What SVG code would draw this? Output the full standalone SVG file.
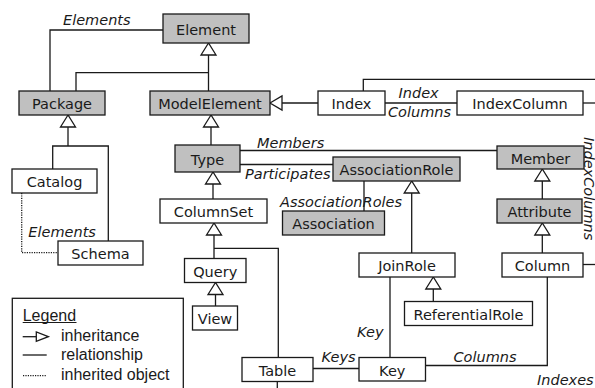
<svg xmlns="http://www.w3.org/2000/svg" width="595" height="388" viewBox="0 0 595 388">
<style>
.n rect{stroke:#1a1a1a;stroke-width:1.3}
.g rect{fill:#c0c0c0}
.w rect{fill:#fff}
text{font-family:"DejaVu Sans",Verdana,sans-serif;font-size:14.5px;fill:#1a1a1a}
.n text{text-anchor:middle}
.lbl{font-style:italic}
.c path{fill:none;stroke:#1a1a1a;stroke-width:1.3}
.tri{fill:#fff;stroke:#1a1a1a;stroke-width:1.3}
.dot{stroke-dasharray:1.2 1.2}
.lg{font-family:"Liberation Sans",Arial,sans-serif;font-size:16px}
</style>
<defs>
<polygon id="tu" points="0,0 -7.5,12 7.5,12"/>
<polygon id="tl" points="0,0 12,-7 12,7"/>
<polygon id="tr" points="0,0 -12,-4.7 -12,4.7"/>
</defs>
<rect width="595" height="388" fill="#fff"/>
<g class="c" id="connectors">
<path d="M208.5,55 V91 M76,91 V72.7 H208.5"/>
<path d="M163,30 H50 V91"/>
<path d="M211,127 V145"/>
<path d="M282,103 H318"/>
<path d="M363.3,91 V79.3 H596"/>
<path d="M385,103 H457"/>
<path d="M583,103 H596"/>
<path d="M68,127 V146 M52.7,169 V146 H108.3 V241"/>
<path class="dot" d="M21.7,193 V252.7 H58"/>
<path d="M213,184 V199"/>
<path d="M240,150.5 H497"/>
<path d="M240,164.5 H333"/>
<path d="M364,181 V211"/>
<path d="M214,235 V258.5 M214,248.3 H278.3 V357.5"/>
<path d="M215.5,294.5 V306"/>
<path d="M411.7,193 V253"/>
<path d="M433.3,289 V301.5"/>
<path d="M542.3,181 V199"/>
<path d="M542.3,235 V253"/>
<path d="M583,264.5 H596"/>
<path d="M390,277 V357.5"/>
<path d="M313,368.5 H359"/>
<path d="M425.5,365.5 H547.3 V277"/>
<path d="M277.3,381.5 V390"/>
<use href="#tu" class="tri" x="208.5" y="43"/>
<use href="#tu" class="tri" x="211" y="115"/>
<use href="#tl" class="tri" x="270" y="103"/>
<use href="#tu" class="tri" x="68" y="115"/>
<use href="#tu" class="tri" x="213" y="172"/>
<use href="#tu" class="tri" x="214" y="223"/>
<use href="#tu" class="tri" x="215.5" y="282.5"/>
<use href="#tu" class="tri" x="411.7" y="181"/>
<use href="#tu" class="tri" x="433.3" y="277"/>
<use href="#tu" class="tri" x="542.3" y="169"/>
<use href="#tu" class="tri" x="542.3" y="223"/>
<text class="lbl" x="63" y="25">Elements</text>
<text class="lbl" x="257" y="147.5">Members</text>
<text class="lbl" x="245" y="179">Participates</text>
<text class="lbl" x="280" y="206.5">AssociationRoles</text>
<text class="lbl" x="398.5" y="98">Index</text>
<text class="lbl" x="388" y="116.5">Columns</text>
<text class="lbl" transform="translate(583.5,137) rotate(90)">IndexColumns</text>
<text class="lbl" x="28.3" y="237">Elements</text>
<text class="lbl" x="357" y="336.5">Key</text>
<text class="lbl" x="321.5" y="361.5">Keys</text>
<text class="lbl" x="453.5" y="362">Columns</text>
<text class="lbl" x="537" y="385">Indexes</text>
</g>
<g id="Element" class="n g"><rect x="163" y="14" width="86" height="29"/><text x="206" y="35">Element</text></g>
<g id="Package" class="n g"><rect x="19" y="91" width="86" height="24"/><text x="62" y="109">Package</text></g>
<g id="ModelElement" class="n g"><rect x="150" y="91" width="120" height="24"/><text x="210" y="109">ModelElement</text></g>
<g id="Index" class="n w"><rect x="318" y="91" width="67" height="24"/><text x="351.5" y="109">Index</text></g>
<g id="IndexColumn" class="n w"><rect x="457" y="91" width="126" height="24"/><text x="520" y="109">IndexColumn</text></g>
<g id="Type" class="n g"><rect x="175" y="145" width="65" height="27"/><text x="207.5" y="164.5">Type</text></g>
<g id="Member" class="n g"><rect x="497" y="146" width="87" height="23"/><text x="540.5" y="163.5">Member</text></g>
<g id="AssociationRole" class="n g"><rect x="333" y="157" width="127" height="24"/><text x="396.5" y="175">AssociationRole</text></g>
<g id="Catalog" class="n w"><rect x="12" y="169" width="85" height="24"/><text x="54.5" y="187">Catalog</text></g>
<g id="ColumnSet" class="n w"><rect x="160" y="199" width="107" height="24"/><text x="213.5" y="217">ColumnSet</text></g>
<g id="Attribute" class="n g"><rect x="497" y="199" width="85" height="24"/><text x="539.5" y="217">Attribute</text></g>
<g id="Association" class="n g"><rect x="282.5" y="211" width="102" height="24"/><text x="333.5" y="229">Association</text></g>
<g id="Schema" class="n w"><rect x="58" y="241" width="85" height="24"/><text x="100.5" y="259">Schema</text></g>
<g id="JoinRole" class="n w"><rect x="359" y="253" width="96" height="24"/><text x="407" y="271">JoinRole</text></g>
<g id="Column" class="n w"><rect x="502" y="253" width="81" height="24"/><text x="542.5" y="271">Column</text></g>
<g id="Query" class="n w"><rect x="184.5" y="258.5" width="61.5" height="24"/><text x="215.25" y="276.5">Query</text></g>
<g id="ReferentialRole" class="n w"><rect x="404.5" y="301.5" width="128" height="24"/><text x="468.5" y="319.5">ReferentialRole</text></g>
<g id="View" class="n w"><rect x="192.5" y="306" width="45" height="24"/><text x="215" y="324">View</text></g>
<g id="Table" class="n w"><rect x="242" y="357.5" width="71" height="24"/><text x="277.5" y="375.5">Table</text></g>
<g id="Key" class="n w"><rect x="359" y="357.5" width="66.5" height="23.5"/><text x="392.25" y="375.5">Key</text></g>
<g id="Legend">
<rect x="12.3" y="298.3" width="171" height="100" fill="#fff" stroke="#1a1a1a" stroke-width="1.3"/>
<text class="lg" x="22.7" y="320.5">Legend</text>
<path d="M22.7,322.5 H76.5" stroke="#1a1a1a" stroke-width="1.2"/>
<path d="M22.7,336.7 H36.7" stroke="#1a1a1a" stroke-width="1.3"/>
<use href="#tr" class="tri" x="48.3" y="336.7"/>
<text class="lg" x="61" y="340.5">inheritance</text>
<path d="M22.7,355 H46.7" stroke="#1a1a1a" stroke-width="1.3"/>
<text class="lg" x="61" y="359.5">relationship</text>
<path d="M23,375.7 H47" stroke="#1a1a1a" stroke-width="1.2" stroke-dasharray="1.2 1.2"/>
<text class="lg" x="61" y="379.5">inherited object</text>
</g>
</svg>
